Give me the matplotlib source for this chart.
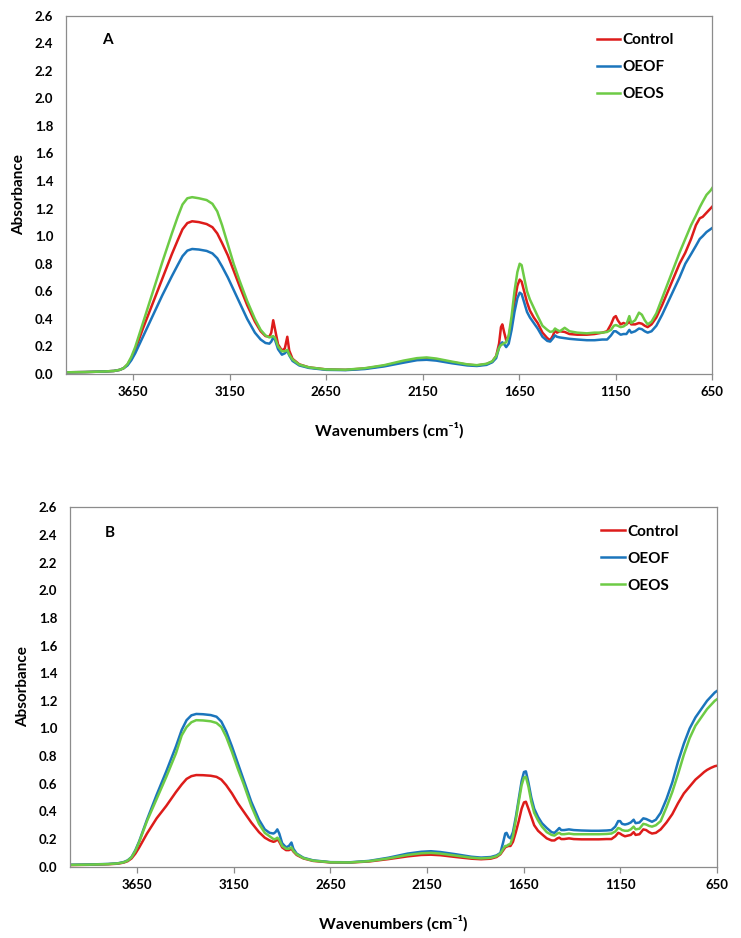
import matplotlib
matplotlib.use("Agg")
import matplotlib.pyplot as plt
import numpy as np

plt.rcParams['font.family'] = ['Lato', 'DejaVu Sans']
plt.rcParams['font.weight'] = 'bold'

wavenumbers = [4000, 3900, 3800, 3750, 3720, 3700, 3680, 3660, 3640, 3600,
               3550, 3500, 3450, 3420, 3395, 3370, 3345, 3310, 3270, 3240,
               3215, 3190, 3160, 3130, 3100, 3060, 3020, 2990, 2965, 2945,
               2935, 2925, 2915, 2900, 2880, 2865, 2852, 2842, 2825, 2790,
               2740, 2650, 2550, 2450, 2350, 2250, 2180, 2130, 2080, 2000,
               1920, 1870, 1820, 1790, 1770, 1755, 1745, 1738, 1728, 1718,
               1705, 1690, 1675, 1660, 1648, 1638, 1625, 1610, 1595, 1575,
               1555, 1530, 1505, 1490, 1475, 1465, 1455, 1440, 1415, 1390,
               1350, 1300, 1260, 1220, 1195, 1175, 1160, 1150, 1140, 1125,
               1110, 1095, 1080, 1070, 1050, 1030, 1015, 1000, 985, 965,
               940, 910, 880, 850, 820, 790, 760, 735, 715, 700,
               680, 660, 650]

# Panel A
a_control = [0.012, 0.014, 0.018, 0.022, 0.030, 0.042, 0.068, 0.115, 0.175, 0.33,
             0.51, 0.69, 0.87, 0.97, 1.05, 1.095, 1.108, 1.102, 1.088, 1.065,
             1.02, 0.95, 0.86, 0.75, 0.64, 0.50, 0.38, 0.31, 0.275, 0.27,
             0.30, 0.39, 0.32, 0.215, 0.17, 0.185, 0.27, 0.17, 0.11, 0.07,
             0.048, 0.033, 0.030, 0.040, 0.060, 0.090, 0.108, 0.112, 0.105, 0.085,
             0.068, 0.062, 0.072, 0.090, 0.13, 0.22, 0.34, 0.36, 0.30, 0.245,
             0.27, 0.38, 0.52, 0.64, 0.685, 0.67, 0.60, 0.52, 0.46, 0.41,
             0.37, 0.30, 0.26, 0.245, 0.28, 0.32, 0.30, 0.31, 0.305, 0.29,
             0.285, 0.285, 0.29, 0.30, 0.31, 0.36, 0.41, 0.42, 0.39, 0.36,
             0.37, 0.36, 0.38, 0.36, 0.36, 0.37, 0.365, 0.35, 0.34, 0.36,
             0.41, 0.50, 0.60, 0.70, 0.80, 0.88, 0.98, 1.08, 1.13, 1.14,
             1.17, 1.20, 1.215]
a_oeof = [0.012, 0.014, 0.018, 0.022, 0.030, 0.042, 0.062, 0.100, 0.150, 0.27,
          0.42, 0.57, 0.71, 0.79, 0.855, 0.895, 0.907, 0.903, 0.893, 0.875,
          0.84, 0.78, 0.70, 0.61, 0.52, 0.40, 0.30, 0.25, 0.225, 0.22,
          0.235, 0.265, 0.245, 0.18, 0.14, 0.15, 0.17, 0.135, 0.095, 0.062,
          0.044, 0.030, 0.028, 0.036, 0.055, 0.082, 0.100, 0.103, 0.097, 0.078,
          0.062, 0.058, 0.066, 0.085, 0.115, 0.19, 0.22, 0.23, 0.215, 0.195,
          0.22, 0.32, 0.45, 0.55, 0.59, 0.58, 0.52, 0.45, 0.41, 0.37,
          0.33, 0.27, 0.24, 0.235, 0.26, 0.28, 0.27, 0.265, 0.26, 0.255,
          0.250, 0.245, 0.245, 0.250, 0.25, 0.28, 0.31, 0.31, 0.30, 0.285,
          0.29, 0.29, 0.32, 0.30, 0.31, 0.33, 0.325, 0.31, 0.30, 0.31,
          0.35, 0.43, 0.52, 0.61, 0.70, 0.80, 0.87, 0.93, 0.98, 1.00,
          1.03, 1.05, 1.06]
a_oeos = [0.012, 0.014, 0.018, 0.022, 0.030, 0.042, 0.072, 0.125, 0.195, 0.37,
          0.59, 0.81, 1.02, 1.14, 1.23, 1.275, 1.283, 1.275, 1.262, 1.235,
          1.18, 1.08, 0.94, 0.80, 0.68, 0.53, 0.40, 0.32, 0.28, 0.265,
          0.27, 0.275, 0.26, 0.20, 0.165, 0.165, 0.175, 0.14, 0.105, 0.068,
          0.048, 0.033, 0.031, 0.042, 0.064, 0.097, 0.115, 0.120, 0.112, 0.090,
          0.070, 0.064, 0.074, 0.092, 0.13, 0.19, 0.21, 0.215, 0.225, 0.23,
          0.28, 0.42, 0.60, 0.74, 0.80, 0.79, 0.70, 0.60, 0.54, 0.48,
          0.42, 0.35, 0.32, 0.305, 0.31, 0.33, 0.32, 0.31, 0.335, 0.31,
          0.30, 0.295, 0.30, 0.30, 0.305, 0.32, 0.35, 0.355, 0.35, 0.34,
          0.345, 0.36, 0.42, 0.37, 0.39, 0.445, 0.43, 0.39, 0.36, 0.38,
          0.44, 0.55, 0.66, 0.77, 0.88, 0.98, 1.08, 1.15, 1.21, 1.25,
          1.30, 1.33, 1.35]

# Panel B
b_control = [0.012, 0.014, 0.018, 0.022, 0.030, 0.040, 0.060, 0.095, 0.140, 0.24,
             0.35, 0.44, 0.54, 0.595, 0.635, 0.655, 0.663, 0.662, 0.658, 0.650,
             0.63, 0.59, 0.53, 0.46, 0.40, 0.32, 0.25, 0.21, 0.19, 0.18,
             0.185, 0.20, 0.18, 0.14, 0.12, 0.12, 0.13, 0.11, 0.085, 0.06,
             0.042, 0.031, 0.030, 0.038, 0.055, 0.075, 0.085, 0.087, 0.083, 0.070,
             0.058, 0.054, 0.058, 0.070, 0.090, 0.12, 0.14, 0.145, 0.15, 0.15,
             0.18, 0.25, 0.33, 0.42, 0.465, 0.47, 0.42, 0.36, 0.30, 0.26,
             0.235, 0.205, 0.19, 0.19, 0.205, 0.21, 0.20, 0.20, 0.205, 0.20,
             0.198, 0.198, 0.198, 0.20, 0.20, 0.22, 0.245, 0.24, 0.23, 0.22,
             0.225, 0.23, 0.25, 0.23, 0.235, 0.27, 0.265, 0.25, 0.24, 0.245,
             0.27, 0.32, 0.38, 0.46, 0.53, 0.58, 0.63, 0.66, 0.685, 0.70,
             0.715, 0.727, 0.73]
b_oeof = [0.014, 0.016, 0.020, 0.025, 0.034, 0.046, 0.070, 0.120, 0.185, 0.34,
          0.52, 0.69, 0.87, 0.99, 1.06, 1.095, 1.105, 1.103, 1.097, 1.085,
          1.05, 0.98, 0.87, 0.75, 0.63, 0.47, 0.34, 0.27, 0.245, 0.24,
          0.25, 0.27, 0.24, 0.17, 0.14, 0.15, 0.175, 0.13, 0.095, 0.065,
          0.046, 0.033, 0.032, 0.042, 0.065, 0.095, 0.108, 0.112, 0.106, 0.090,
          0.072, 0.066, 0.070, 0.082, 0.100, 0.18, 0.24, 0.245, 0.215, 0.205,
          0.25, 0.36, 0.49, 0.62, 0.685, 0.69, 0.61, 0.50, 0.42, 0.36,
          0.315, 0.28, 0.25, 0.245, 0.265, 0.28, 0.265, 0.265, 0.27, 0.265,
          0.262, 0.260, 0.260, 0.262, 0.265, 0.29, 0.33, 0.33, 0.31, 0.305,
          0.31, 0.32, 0.34, 0.315, 0.32, 0.35, 0.345, 0.335, 0.325, 0.34,
          0.39, 0.49, 0.61, 0.76, 0.89, 1.00, 1.08, 1.13, 1.17, 1.20,
          1.23, 1.26, 1.27]
b_oeos = [0.013, 0.015, 0.019, 0.024, 0.032, 0.044, 0.068, 0.115, 0.180, 0.33,
          0.49, 0.65, 0.82, 0.95, 1.01, 1.045, 1.06, 1.058, 1.052, 1.04,
          1.01, 0.94, 0.83, 0.71, 0.60, 0.44, 0.31, 0.245, 0.22, 0.20,
          0.20, 0.21, 0.195, 0.15, 0.13, 0.13, 0.14, 0.115, 0.09, 0.062,
          0.044, 0.032, 0.031, 0.040, 0.060, 0.085, 0.097, 0.100, 0.095, 0.080,
          0.065, 0.060, 0.064, 0.076, 0.095, 0.13, 0.15, 0.15, 0.16, 0.165,
          0.22, 0.34, 0.47, 0.59, 0.645, 0.65, 0.58, 0.47, 0.39, 0.335,
          0.29, 0.25, 0.23, 0.225, 0.24, 0.245, 0.235, 0.235, 0.24, 0.235,
          0.235, 0.235, 0.235, 0.237, 0.24, 0.255, 0.28, 0.275, 0.265, 0.26,
          0.26, 0.27, 0.29, 0.27, 0.275, 0.31, 0.305, 0.295, 0.29, 0.30,
          0.33, 0.43, 0.54, 0.67, 0.81, 0.93, 1.02, 1.07, 1.11, 1.14,
          1.17, 1.20, 1.21]

series_names = ['Control', 'OEOF', 'OEOS']
series_colors = ['#DD1C1A', '#1B75BC', '#6DCB45']
x_ticks = [3650, 3150, 2650, 2150, 1650, 1150, 650]
y_ticks = [round(0.2 * i, 1) for i in range(14)]
panel_labels = ['A', 'B']

panels = [(a_control, a_oeof, a_oeos), (b_control, b_oeof, b_oeos)]
for p in panels:
    for s in p:
        assert len(s) == len(wavenumbers), len(s)

fig = plt.figure(figsize=(7.41, 9.38), dpi=100)
rects = [[0.0887, 0.6013, 0.8726, 0.3820], [0.0941, 0.0760, 0.8731, 0.3832]]
label_pos = [(0.064, 0.932), (0.062, 0.928)]

for rect, data, lab, lp in zip(rects, panels, panel_labels, label_pos):
    ax = fig.add_axes(rect)
    for vals, name, col in zip(data, series_names, series_colors):
        ax.plot(wavenumbers, vals, color=col, lw=1.8, label=name, solid_joinstyle='round')
    ax.set_xlim(4000, 650)
    ax.set_ylim(0, 2.6)
    ax.set_xticks(x_ticks)
    ax.set_xticklabels([str(t) for t in x_ticks])
    ax.set_yticks(y_ticks)
    ax.set_yticklabels([f'{t:.1f}' for t in y_ticks])
    for sp in ax.spines.values():
        sp.set_color('#8C8C8C')
        sp.set_linewidth(0.9)
    ax.tick_params(axis='x', length=4, width=0.9, color='#8C8C8C', pad=5, labelsize=9.5)
    ax.tick_params(axis='y', length=0, pad=9, labelsize=9.5)
    for t in ax.get_xticklabels() + ax.get_yticklabels():
        t.set_fontweight('bold')
    ax.set_ylabel('Absorbance', fontsize=11, fontweight='bold', labelpad=6)
    ax.set_xlabel('Wavenumbers (cm\u207b\u00b9)', fontsize=11.5, fontweight='bold', labelpad=17)
    ax.text(lp[0], lp[1], lab, transform=ax.transAxes, fontsize=11, fontweight='bold',
            ha='center', va='center')
    leg = ax.legend(frameon=False, loc='upper left', bbox_to_anchor=(0.80, 0.99),
                    handlelength=1.55, handletextpad=0.15, labelspacing=0.85,
                    prop={'size': 11, 'weight': 'bold'})

fig.savefig('out.png', dpi=100)
